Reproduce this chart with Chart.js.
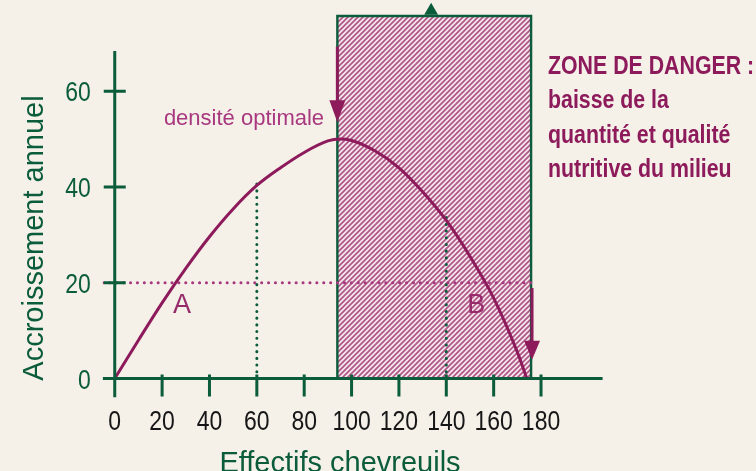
<!DOCTYPE html>
<html lang="fr">
<head>
  <meta charset="UTF-8" />
  <title>Accroissement annuel - chevreuils</title>
  <script src="https://cdn.jsdelivr.net/npm/chart.js"></script>
  <style>
    body { margin: 0; background: #f5f0e8; }
    canvas { display: block; }
  </style>
</head>
<body>
  <canvas id="chart" width="756" height="471"></canvas>

  <script>
    // courbe : effectif -> accroissement annuel
    const effectifs = [0, 10, 20, 30, 40, 50, 60, 70, 80, 90, 95, 100, 110, 120, 130, 140, 150, 160, 170, 174];
    const accroissement = [0, 8, 15.8, 23, 29.6, 35.4, 40.3, 44, 47.2, 49.6, 50, 49.7, 47.5, 44, 39, 33, 25.5, 16.8, 5.5, 0];

    const xTicks = [0, 20, 40, 60, 80, 100, 120, 140, 160, 180];
    const yTicks = [0, 20, 40, 60];

    // zone de danger (effectifs de debut / fin) et haut du cadre
    const zoneX = [94, 175.8];
    const zoneHaut = 75.7;
    const repereHaut = [133.6, 76.8];

    // seuil a 20 en pointilles
    const seuilX = [-5, 175.8];
    const seuilY = 20;

    // verticales pointillees a 60 et 140
    const verticalesX = [60, 140];
    const verticalesY = [41.5, 33.8];

    const titreY = 'Accroissement annuel';
    const titreX = 'Effectifs chevreuils';
    const noteOptimum = 'densité optimale';
    const noteDanger = ['ZONE DE DANGER :', 'baisse de la', 'quantité et qualité', 'nutritive du milieu'];

    const green = '#0b5c3b';
    const magenta = '#8d1b5b';
    const sans = "'Liberation Sans', Arial, sans-serif";

    // hachures de la zone
    function hatch() {
      const c = document.createElement('canvas');
      c.width = 5; c.height = 5;
      const g = c.getContext('2d');
      g.fillStyle = '#f4e6ec';
      g.fillRect(0, 0, 5, 5);
      g.strokeStyle = '#b05687';
      g.lineWidth = 1.7;
      g.beginPath();
      g.moveTo(-1, 6); g.lineTo(6, -1);
      g.moveTo(-1, 1); g.lineTo(1, -1);
      g.moveTo(4, 6); g.lineTo(6, 4);
      g.stroke();
      return g.createPattern(c, 'repeat');
    }

    function arrow(ctx, x, y1, y2, head, width) {
      ctx.beginPath();
      ctx.moveTo(x, y1);
      ctx.lineTo(x, y2 - head + 2);
      ctx.stroke();
      ctx.beginPath();
      ctx.moveTo(x, y2);
      ctx.lineTo(x - width / 2, y2 - head);
      ctx.lineTo(x + width / 2, y2 - head);
      ctx.closePath();
      ctx.fill();
    }

    // texte resserre (pas de police etroite installee)
    function narrowText(ctx, text, x, y, align) {
      ctx.save();
      ctx.translate(x, y);
      ctx.scale(0.82, 1);
      ctx.textAlign = align;
      ctx.fillText(text, 0, 0);
      ctx.restore();
    }

    const decor = {
      id: 'decor',
      beforeDraw(chart) {
        const ctx = chart.ctx;
        ctx.save();
        ctx.fillStyle = '#f5f0e8';
        ctx.fillRect(0, 0, chart.width, chart.height);
        ctx.restore();
      },
      afterDatasetsDraw(chart) {
        const { ctx, scales: { x, y } } = chart;
        const x0 = x.getPixelForValue(0);
        const y0 = y.getPixelForValue(0);
        ctx.save();

        // axes
        ctx.strokeStyle = green;
        ctx.lineWidth = 3;
        ctx.beginPath();
        ctx.moveTo(x0, y.getPixelForValue(-3.9));
        ctx.lineTo(x0, y.getPixelForValue(68.4));
        ctx.moveTo(x.getPixelForValue(-5), y0);
        ctx.lineTo(x.getPixelForValue(206), y0);
        y.ticks.forEach(t => {
          const py = y.getPixelForValue(t.value);
          ctx.moveTo(x0 - 11, py);
          ctx.lineTo(x0 + 11, py);
        });
        x.ticks.forEach(t => {
          const px = x.getPixelForValue(t.value);
          ctx.moveTo(px, y0 - 4);
          ctx.lineTo(px, y0 + 18);
        });
        ctx.stroke();

        // graduations
        ctx.font = '28px ' + sans;
        ctx.textBaseline = 'alphabetic';
        ctx.fillStyle = '#161616';
        x.ticks.forEach(t => narrowText(ctx, String(t.value), x.getPixelForValue(t.value), y0 + 51, 'center'));
        ctx.fillStyle = green;
        y.ticks.forEach(t => narrowText(ctx, String(t.value), x0 - 24, y.getPixelForValue(t.value) + 10, 'right'));

        // fleches
        ctx.strokeStyle = magenta;
        ctx.fillStyle = magenta;
        ctx.lineWidth = 3;
        arrow(ctx, x.getPixelForValue(94), y.getPixelForValue(69.3), y.getPixelForValue(53.5), 22, 16);
        arrow(ctx, x.getPixelForValue(176.2), y.getPixelForValue(18.9), y.getPixelForValue(3.9), 19, 16);

        // textes
        ctx.fillStyle = '#a8387f';
        ctx.font = '22px ' + sans;
        ctx.textAlign = 'right';
        ctx.fillText(noteOptimum, x.getPixelForValue(88.4), y.getPixelForValue(52.9));

        ctx.fillStyle = '#962a6a';
        ctx.font = '27px ' + sans;
        ctx.textAlign = 'center';
        ctx.textBaseline = 'middle';
        ctx.fillText('A', x.getPixelForValue(28.4), y.getPixelForValue(15.3));
        ctx.fillText('B', x.getPixelForValue(152.6), y.getPixelForValue(15.3));

        ctx.fillStyle = magenta;
        ctx.font = 'bold 26px ' + sans;
        ctx.textBaseline = 'alphabetic';
        noteDanger.forEach((t, i) => narrowText(ctx, t, 548, 74 + i * 34.4, 'left'));

        ctx.fillStyle = green;
        ctx.font = '29px ' + sans;
        ctx.textAlign = 'center';
        ctx.fillText(titreX, 340, 472);
        ctx.translate(43, 238);
        ctx.rotate(-Math.PI / 2);
        ctx.fillText(titreY, 0, 0);
        ctx.restore();
      }
    };

    const courbe = effectifs.map((v, i) => ({ x: v, y: accroissement[i] }));

    new Chart(document.getElementById('chart'), {
      type: 'line',
      data: {
        datasets: [
          {
            data: courbe,
            borderColor: magenta,
            borderWidth: 3,
            pointRadius: 0,
            cubicInterpolationMode: 'monotone',
            order: 1
          },
          {
            data: verticalesX.map((v, i) => [{ x: v, y: 0 }, { x: v, y: verticalesY[i] }]).flatMap(p => [...p, { x: NaN, y: NaN }]),
            borderColor: green,
            borderWidth: 3,
            borderDash: [0.1, 6.6],
            borderCapStyle: 'round',
            pointRadius: 0,
            spanGaps: false,
            order: 3
          },
          {
            data: seuilX.map(v => ({ x: v, y: seuilY })),
            borderColor: '#a8387f',
            borderWidth: 3,
            borderDash: [0.1, 6.8],
            borderCapStyle: 'round',
            pointRadius: 0,
            order: 2
          },
          {
            data: [
              { x: zoneX[0], y: 0 }, { x: zoneX[0], y: zoneHaut },
              { x: zoneX[1], y: zoneHaut }, { x: zoneX[1], y: 0 }
            ],
            borderColor: green,
            borderWidth: 2.4,
            backgroundColor: hatch(),
            fill: 'origin',
            pointRadius: 0,
            clip: false,
            order: 10
          },
          {
            data: [{ x: repereHaut[0], y: repereHaut[1] }],
            showLine: false,
            pointStyle: 'triangle',
            pointRadius: 8,
            pointBackgroundColor: green,
            pointBorderWidth: 0,
            clip: false,
            order: 4
          }
        ]
      },
      options: {
        responsive: false,
        devicePixelRatio: 1,
        animation: false,
        layout: { padding: { left: 0, top: 14.5, right: 153.4, bottom: 0 } },
        plugins: { legend: { display: false }, tooltip: { enabled: false } },
        scales: {
          x: {
            type: 'linear',
            min: -5,
            max: 206,
            afterBuildTicks: s => { s.ticks = xTicks.map(v => ({ value: v })); },
            afterFit: s => { s.height = 74; },
            grid: { display: false, drawTicks: false },
            border: { display: false },
            ticks: { display: false }
          },
          y: {
            type: 'linear',
            min: -3.86,
            max: 76,
            afterBuildTicks: s => { s.ticks = yTicks.map(v => ({ value: v })); },
            afterFit: s => { s.width = 102.9; },
            grid: { display: false, drawTicks: false },
            border: { display: false },
            ticks: { display: false }
          }
        }
      },
      plugins: [decor]
    });
  </script>
</body>
</html>
